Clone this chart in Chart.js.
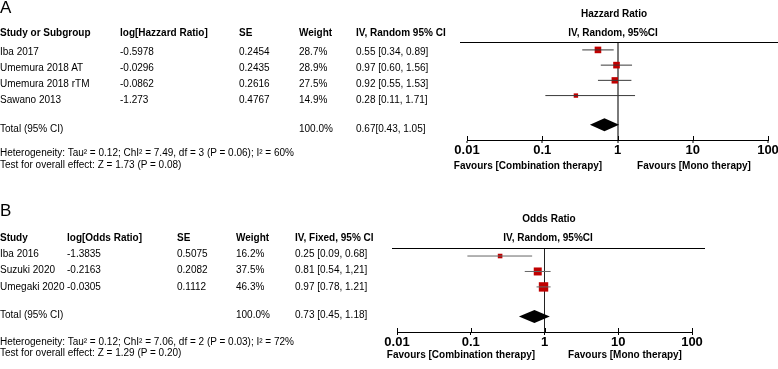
<!DOCTYPE html>
<html>
<head>
<meta charset="utf-8">
<script src="https://cdn.jsdelivr.net/npm/chart.js@4.4.1/dist/chart.umd.min.js"></script>
<style>
body { margin: 0; width: 778px; height: 369px; overflow: hidden; background: #fff; position: relative;
       font-family: "Liberation Sans", Arial, sans-serif; font-size: 10px; color: #000; }
.t { position: absolute; white-space: nowrap; line-height: 12px; }
.b { font-weight: bold; }
.c { transform: translateX(-50%); }
.big { font-size: 17px; line-height: 18px; }
canvas { position: absolute; left: 0; }
</style>
</head>
<body>
<canvas id="chartA" width="800" height="185" style="top:0px"></canvas>
<canvas id="chartB" width="800" height="179" style="top:190px"></canvas>
<script>
// ---- panel A: hazard ratio ----
var studiesA = ['Iba 2017', 'Umemura 2018 AT', 'Umemura 2018 rTM', 'Sawano 2013'];
var logHrA = ['-0.5978', '-0.0296', '-0.0862', '-1.273'];
var seA = ['0.2454', '0.2435', '0.2616', '0.4767'];
var weightA = [28.7, 28.9, 27.5, 14.9];
var hrA = [0.55, 0.97, 0.92, 0.28];
var hrLowA = [0.34, 0.60, 0.55, 0.11];
var hrHighA = [0.89, 1.56, 1.53, 1.71];
var ciTextA = ['0.55 [0.34, 0.89]', '0.97 [0.60, 1.56]', '0.92 [0.55, 1.53]', '0.28 [0.11, 1.71]'];
var totalA = [0.67, 0.43, 1.05]; // estimate, low, high
var totalTextA = '0.67[0.43, 1.05]';
var hetA = 'Heterogeneity: Tau\u00b2 = 0.12; ChI\u00b2 = 7.49, df = 3 (P = 0.06); I\u00b2 = 60%';
var testA = 'Test for overall effect: Z = 1.73 (P = 0.08)';

// ---- panel B: odds ratio ----
var studiesB = ['Iba 2016', 'Suzuki 2020', 'Umegaki 2020'];
var logOrB = ['-1.3835', '-0.2163', '-0.0305'];
var seB = ['0.5075', '0.2082', '0.1112'];
var weightB = [16.2, 37.5, 46.3];
var orB = [0.25, 0.81, 0.97];
var orLowB = [0.09, 0.54, 0.78];
var orHighB = [0.68, 1.21, 1.21];
var ciTextB = ['0.25 [0.09, 0.68]', '0.81 [0.54, 1,21]', '0.97 [0.78, 1.21]'];
var totalB = [0.73, 0.45, 1.18];
var totalTextB = '0.73 [0.45, 1.18]';
var hetB = 'Heterogeneity: Tau\u00b2 = 0.12; ChI\u00b2 = 7.06, df = 2 (P = 0.03); I\u00b2 = 72%';
var testB = 'Test for overall effect: Z = 1.29 (P = 0.20)';

// axis ticks (shared)
var tickValues = [0.01, 0.1, 1, 10, 100];
var tickLabels = ['0.01', '0.1', '1', '10', '100'];
var favourLeft = 'Favours [Combination therapy]';
var favourRight = 'Favours [Mono therapy]';

function addText(str, x, y, cls) {
    var d = document.createElement('div');
    d.className = 't ' + (cls || '');
    d.textContent = str;
    d.style.left = x + 'px';
    d.style.top = (y - 6) + 'px';
    document.body.appendChild(d);
    return d;
}

// table A
var big = addText('A', 0, 7, 'big');
big.style.top = '-1px';
var colsA = [0, 120, 239, 299, 356];
['Study or Subgroup', 'log[Hazzard Ratio]', 'SE', 'Weight', 'IV, Random 95% CI'].forEach(function (h, i) {
    addText(h, colsA[i], 33, 'b');
});
studiesA.forEach(function (s, i) {
    var y = 52 + i * 16;
    addText(s, colsA[0], y);
    addText(logHrA[i], colsA[1], y);
    addText(seA[i], colsA[2], y);
    addText(weightA[i].toFixed(1) + '%', colsA[3], y);
    addText(ciTextA[i], colsA[4], y);
});
addText('Total (95% CI)', 0, 128.5);
addText('100.0%', colsA[3], 128.5);
addText(totalTextA, colsA[4], 128.5);
addText(hetA, 0, 152.5);
addText(testA, 0, 164.5);
addText('Hazzard Ratio', 614, 14, 'b c');
addText('IV, Random, 95%CI', 613, 33, 'b c');
addText(favourLeft, 528, 166, 'b c');
addText(favourRight, 694, 166, 'b c');

// table B
var bigB = addText('B', 0, 211, 'big');
bigB.style.top = '202px';
var colsB = [0, 67, 177, 236, 295];
['Study', 'log[Odds Ratio]', 'SE', 'Weight', 'IV, Fixed, 95% CI'].forEach(function (h, i) {
    addText(h, colsB[i], 237.5, 'b');
});
studiesB.forEach(function (s, i) {
    var y = 254 + i * 16.3;
    addText(s, colsB[0], y);
    addText(logOrB[i], colsB[1], y);
    addText(seB[i], colsB[2], y);
    addText(weightB[i].toFixed(1) + '%', colsB[3], y);
    addText(ciTextB[i], colsB[4], y);
});
addText('Total (95% CI)', 0, 314.5);
addText('100.0%', colsB[3], 314.5);
addText(totalTextB, colsB[4], 314.5);
addText(hetB, 0, 341.5);
addText(testB, 0, 353);
addText('Odds Ratio', 549, 219, 'b c');
addText('IV, Random, 95%CI', 548, 237.5, 'b c');
addText(favourLeft, 461, 355, 'b c');
addText(favourRight, 625, 355, 'b c');

// draws the summary diamond, the rule above the plot and the upper half of the tick marks
var forestExtras = {
    id: 'forestExtras',
    afterDatasetsDraw: function (chart, args, opts) {
        var ctx = chart.ctx;
        var xs = chart.scales.x, ys = chart.scales.y;
        var area = chart.chartArea;
        ctx.save();
        ctx.strokeStyle = '#000';
        ctx.lineWidth = 1;
        ctx.beginPath();
        ctx.moveTo(area.left - opts.ruleLeft, area.top + 0.5);
        ctx.lineTo(area.right + opts.ruleRight, area.top + 0.5);
        xs.ticks.forEach(function (t) {
            var px = Math.round(xs.getPixelForValue(t.value)) + 0.5;
            ctx.moveTo(px, area.bottom - 4);
            ctx.lineTo(px, area.bottom);
        });
        ctx.stroke();

        var yc = ys.getPixelForValue(opts.totalRow);
        var xEst = xs.getPixelForValue(opts.total[0]);
        var xLo = xs.getPixelForValue(opts.total[1]);
        var xHi = xs.getPixelForValue(opts.total[2]);
        ctx.fillStyle = '#000';
        ctx.beginPath();
        ctx.moveTo(xLo, yc);
        ctx.lineTo(xEst, yc - opts.halfHeight);
        ctx.lineTo(xHi, yc);
        ctx.lineTo(xEst, yc + opts.halfHeight);
        ctx.closePath();
        ctx.fill();
        ctx.restore();
    }
};

function makeForest(canvasId, est, low, high, weight, total, look) {
    var n = est.length;
    var datasets = est.map(function (v, i) {
        return {
            type: 'scatter',
            showLine: true,
            data: [{ x: low[i], y: i }, { x: high[i], y: i }],
            borderColor: look.ciColor,
            borderWidth: 1,
            pointRadius: 0
        };
    });
    datasets.push({
        type: 'scatter',
        data: est.map(function (v, i) { return { x: v, y: i }; }),
        pointStyle: 'rect',
        pointRadius: weight.map(function (w) { return (2 + w * 0.16) / Math.SQRT2; }),
        backgroundColor: '#c00000',
        borderWidth: 0
    });

    return new Chart(document.getElementById(canvasId).getContext('2d'), {
        type: 'scatter',
        data: { datasets: datasets },
        options: {
            responsive: false,
            animation: false,
            devicePixelRatio: 1,
            events: [],
            layout: { padding: look.padding },
            plugins: {
                legend: { display: false },
                tooltip: { enabled: false },
                forestExtras: {
                    total: total,
                    totalRow: n + 0.92,
                    halfHeight: 6.5,
                    ruleLeft: look.ruleLeft,
                    ruleRight: look.ruleRight
                }
            },
            scales: {
                x: {
                    type: 'logarithmic',
                    position: 'bottom',
                    min: 0.01,
                    max: 100,
                    afterBuildTicks: function (scale) {
                        scale.ticks = tickValues.map(function (v) { return { value: v }; });
                    },
                    afterFit: function (scale) { scale.height = 20; },
                    border: { display: true, color: '#000', width: 1 },
                    grid: {
                        drawOnChartArea: true,
                        color: function (c) {
                            return c.tick && c.tick.value === 1 ? look.refColor : 'rgba(0,0,0,0)';
                        },
                        lineWidth: look.refWidth,
                        tickColor: '#000',
                        tickWidth: 1,
                        tickLength: 3
                    },
                    ticks: {
                        autoSkip: false,
                        maxRotation: 0,
                        padding: 0,
                        color: '#000',
                        font: { family: '"Liberation Sans", Arial, sans-serif', size: 13, weight: 'bold' },
                        callback: function (value, index) { return tickLabels[index]; }
                    }
                },
                y: {
                    type: 'linear',
                    display: false,
                    reverse: true,
                    min: -0.52,
                    max: n + 1.92
                }
            }
        },
        plugins: [forestExtras]
    });
}

makeForest('chartA', hrA, hrLowA, hrHighA, weightA, totalA, {
    padding: { left: 467, right: 32, top: 42, bottom: 25 },
    ciColor: '#3a3a3a',
    refColor: '#7a7a7a',
    refWidth: 2,
    ruleLeft: 7,
    ruleRight: 10
});

makeForest('chartB', orB, orLowB, orHighB, weightB, totalB, {
    padding: { left: 397, right: 108, top: 58, bottom: 17 },
    ciColor: '#666',
    refColor: '#222',
    refWidth: 1,
    ruleLeft: 5,
    ruleRight: 13
});
</script>
</body>
</html>
